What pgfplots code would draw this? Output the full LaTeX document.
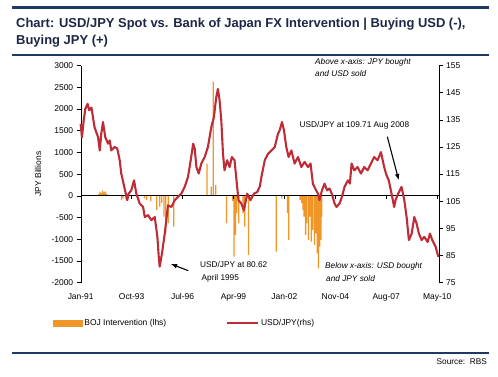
\documentclass[border=0pt]{standalone}
\usepackage{fontspec}
\setmainfont{Liberation Sans}
\usepackage{pgfplots}
\pgfplotsset{compat=1.18}
\definecolor{navy}{RGB}{31,56,100}
\definecolor{titlecol}{RGB}{28,38,70}
\definecolor{bojorange}{RGB}{240,150,40}
\definecolor{usdred}{RGB}{190,45,55}
\newcommand{\lbl}{\fontsize{8.5}{10}\selectfont}
\newcommand{\ann}{\fontsize{8.3}{10}\selectfont}
\begin{document}
\begin{tikzpicture}[x=1bp,y=1bp]
\useasboundingbox (0,0) rectangle (498,376);
\draw[navy, line width=2.5bp] (12,368.5) -- (489,368.5);
\node[anchor=base west, inner sep=0, text=titlecol, font=\bfseries\fontsize{13}{15}\selectfont] at (16,349) {Chart: USD/JPY Spot vs. Bank of Japan FX Intervention | Buying USD (-),};
\node[anchor=base west, inner sep=0, text=titlecol, font=\bfseries\fontsize{13}{15}\selectfont] at (16,332) {Buying JPY (+)};
\draw[navy, line width=2bp] (12,321) -- (489,321);
\draw[navy, line width=2.5bp] (12,23) -- (489,23);
\node[anchor=east, inner sep=0, font=\ann] at (487,14) {Source:\ \ RBS};

\begin{axis}[
  at={(80.7bp,93.3bp)}, anchor=south west,
  scale only axis, width=358bp, height=217.2bp,
  xmin=0, xmax=233, ymin=-2000, ymax=3000,
  axis y line*=left, axis x line*=bottom,
  x axis line style={draw=none},
  ytick={-2000,-1500,...,3000},
  xtick={0,33.14,66.29,99.43,132.57,165.71,198.86,232},
  xticklabels={Jan-91,Oct-93,Jul-96,Apr-99,Jan-02,Nov-04,Aug-07,May-10},
  x tick style={draw=none},
  y tick style={black, line width=0.6bp},
  tick align=outside, major tick length=4bp,
  /pgf/number format/assume math mode=true,
  /pgf/number format/1000 sep={},
  tick label style={font=\lbl},
  xticklabel style={yshift=-3bp},
  ylabel={JPY Billions},
  ylabel style={font=\lbl, at={(axis description cs:-0.119,0.5)}, anchor=center},
  clip=false,
]
\addplot[ybar, bar width=1.3bp, fill=bojorange, draw=none] coordinates {
(3.5,20) (5.0,15) (11.8,40) (12.6,90) (13.5,60) (14.3,120) (15.2,80) (16.0,100) (16.8,50) (17.6,30)
(26.5,-100) (27.5,-60) (29.5,-80) (41.5,-60) (43.0,-94) (45.6,-130) (49.5,-325) (51.4,-250)
(52.7,-170) (54.2,-479) (55.3,-862) (57.0,-631) (60.5,-709)
(82.2,740) (85.0,210) (86.3,2630) (87.9,250)
(94.9,-631) (98.8,-120) (99.8,-1400) (100.7,-900) (101.6,-400) (102.9,-631) (105.7,-400) (106.8,-709) (109.2,-1362)
(127.3,-1285) (130.9,-60) (134.6,-401) (135.4,-1016)
(142.8,-94) (143.9,-170) (144.7,-325) (145.4,-479) (146.4,-900) (147.1,-631) (148.2,-1016) (149.3,-479)
(150.1,-1055) (151.0,-785) (152.1,-1130) (153.0,-862) (154.0,-1322) (154.8,-1668) (155.5,-1170) (156.3,-1016) (156.9,-479)
};
\draw[black, line width=0.7bp] (axis cs:0,0) -- (axis cs:233,0);
\pgfplotsinvokeforeach{33.14,66.29,99.43,132.57,165.71,198.86,232}{
  \draw[black, line width=0.6bp] (axis cs:#1,0) -- ++(0bp,-3bp);
}
\end{axis}

\begin{axis}[
  at={(80.7bp,93.3bp)}, anchor=south west,
  scale only axis, width=358bp, height=217.2bp,
  xmin=0, xmax=233, ymin=75, ymax=155,
  axis y line*=right, axis x line=none,
  ytick={75,85,...,155},
  y tick style={black, line width=0.6bp},
  tick align=outside, major tick length=4bp,
  /pgf/number format/assume math mode=true,
  tick label style={font=\lbl},
  legend columns=2,
  legend style={draw=none, fill=none, inner sep=0pt, outer sep=0pt,
    at={(axis description cs:-0.0774,-0.1855)}, anchor=west, font=\lbl,
    /tikz/every even column/.append style={column sep=58bp}},
  clip=false,
]
\addlegendimage{legend image code/.code={\fill[bojorange] (0bp,-2.8bp) rectangle (29bp,2.8bp);}}
\addlegendentry{BOJ Intervention (lhs)}
\addplot[usdred, line width=2.1bp, line join=round,
  legend image code/.code={\draw[usdred, line width=1.8bp] (0bp,0bp) -- (31bp,0bp);}] coordinates {
(0,133.5) (0.8,128.5) (2,135) (3,139) (4.5,140.9) (5.5,138.5) (7,139.5) (9,132.3) (11.3,128.6) (12.4,123.7)
(13.4,129.9) (14.5,134.2) (16,128.6) (17.8,126.2) (18.9,127.4) (19.9,123.7) (22.1,125) (23.8,124.4) (25.4,120.1)
(26.4,115.2) (28.6,109.7) (30.3,105.4) (31.2,107.8) (32.9,109) (34.7,112.7) (36.2,107.8) (38.4,104.2) (40.6,102.9)
(41.7,99.2) (43.8,99.9) (46,98) (48.2,99.2) (49.9,91.9) (50.8,84.5) (51.4,80.9) (52.9,85.8) (54.7,93.1) (56.8,103.5)
(59,102.9) (61.2,105.4) (63.3,106.6) (65.5,107.8) (67.7,110.3) (69.8,113.9) (71.6,120.1) (73.2,126.2) (74.2,124.4)
(75.3,117.6) (76.8,115.2) (78.5,118.9) (80.7,121.3) (82.8,125) (85,132.3) (86.7,136) (88.2,143.3) (89.3,146.4)
(90.4,142.1) (91.5,134.8) (92.6,122.5) (93.6,116.4) (95.3,120.1) (96.9,117.6) (98.4,121.3) (100.1,120.1)
(101.2,113.9) (102.7,105.4) (104.5,104.2) (106.2,101.7) (108.4,107.8) (110.5,105.4) (112.7,107.8) (114.9,108.4)
(116.6,110.5) (117.6,113.9) (119.8,120.1) (121.9,122.5) (124.1,123.7) (126.3,125) (128.4,129.9) (129.5,131.1)
(131,134.2) (132.3,131.1) (133.8,125) (135.3,121.3) (137.1,123.7) (139.2,118.9) (141.4,121.3) (143.6,117.6)
(145.7,119.5) (147.9,117.6) (149.6,118.9) (151.1,111.5) (152.6,109.7) (154.4,107.8) (155.4,105.4) (157,109)
(158.7,111.5) (160.4,109) (161.9,109.7) (163.4,107.8) (165.2,104.2) (166.5,102.9) (168.5,104.2) (170,106.6)
(171.7,110.3) (173.9,112.7) (175.2,111.5) (176.3,118.9) (178,116.4) (180.2,117.6) (182.4,115.2) (184.5,117.6)
(186.7,116.4) (188.9,118.9) (191,121.3) (193.2,120.1) (195.4,123.1) (197.5,117.6) (199,114.6) (200.5,112.7)
(202.3,107.8) (204,102.9) (204.9,105.4) (206.6,107.8) (208.8,110.3) (210.6,105.4) (212.1,99.2) (213.6,90.7)
(215.4,93.1) (217.1,99.2) (218.6,96.8) (220.1,93.1) (221.9,90.7) (223.6,91.9) (225.8,90) (227.3,93.1)
(228.8,90.7) (231,88.2) (232.8,84.5)
};
\addlegendentry{USD/JPY(rhs)}
\end{axis}

\node[anchor=west, inner sep=0, font=\ann\itshape] at (315,314) {Above x-axis: JPY bought};
\node[anchor=west, inner sep=0, font=\ann\itshape] at (315,302) {and USD sold};
\node[anchor=west, inner sep=0, font=\ann] at (299.5,251) {USD/JPY at 109.71 Aug 2008};
\draw[-latex, black, line width=1.1bp] (387.3,239.3) -- (398.7,196);
\node[anchor=west, inner sep=0, font=\ann\itshape] at (325,110) {Below x-axis: USD bought};
\node[anchor=west, inner sep=0, font=\ann\itshape] at (326,97) {and JPY sold};
\node[anchor=west, inner sep=0, font=\ann] at (200,111) {USD/JPY at 80.62};
\node[anchor=west, inner sep=0, font=\ann] at (201.5,98) {April 1995};
\draw[-latex, black, line width=1.1bp] (188.3,105.3) -- (171,112);
\end{tikzpicture}
\end{document}
